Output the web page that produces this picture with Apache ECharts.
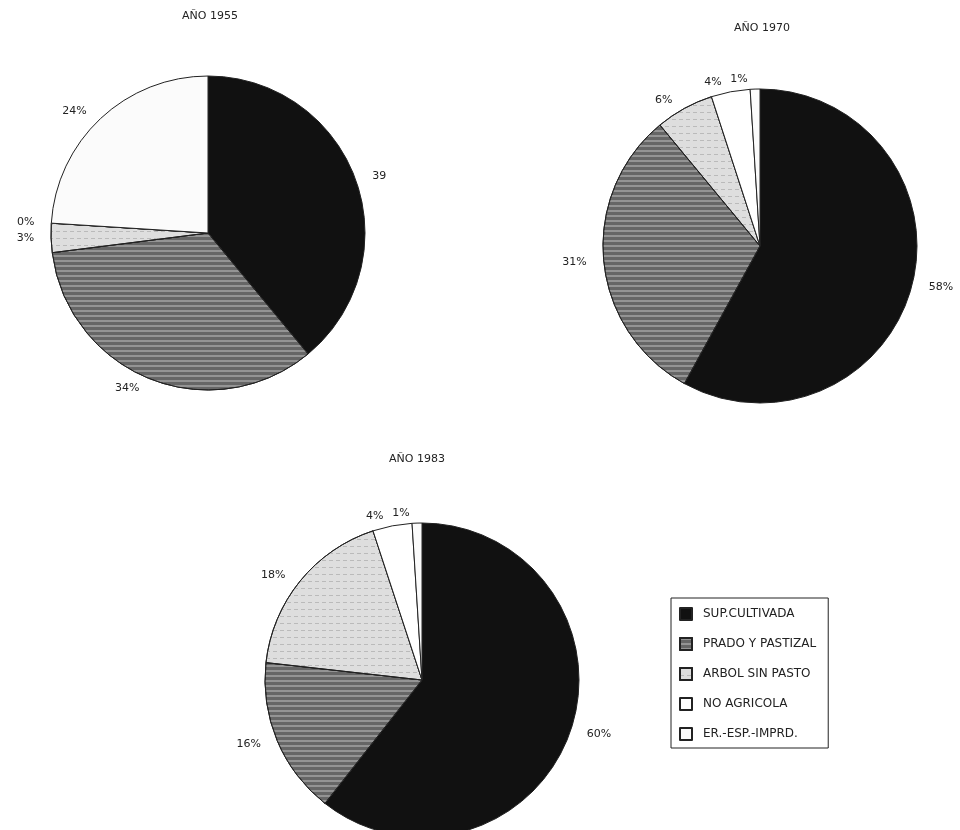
<!DOCTYPE html>
<html><head><meta charset="utf-8">
<script src="https://cdn.jsdelivr.net/npm/echarts@6/dist/echarts.min.js"></script>
<style>html,body{margin:0;padding:0;background:#fff}#c{width:960px;height:830px}</style>
</head><body><div id="c"></div><script>
const categories = ['SUP.CULTIVADA','PRADO Y PASTIZAL','ARBOL SIN PASTO','NO AGRICOLA','ER.-ESP.-IMPRD.'];
const years = ['AÑO 1955','AÑO 1970','AÑO 1983'];
const values1955 = [39,34,3,0,24];
const values1970 = [58,31,6,4,1];
const values1983 = [60,16,18,4,1];
const labels1955 = ['39','34%','3%','0%','24%'];
const labels1970 = ['58%','31%','6%','4%','1%'];
const labels1983 = ['60%','16%','18%','4%','1%'];

const FONT = "'DejaVu Sans',sans-serif";
const styles = [
  {color:'#111111'},
  {color:'#666666', decal:{symbol:'rect', dashArrayX:[1,0], dashArrayY:[2,3], symbolSize:1, color:'rgba(255,255,255,0.3)'}},
  {color:'#dedede', decal:{symbol:'rect', dashArrayX:[[4,3]], dashArrayY:[1,6], symbolSize:1, color:'rgba(120,120,120,0.35)'}},
  {color:'#ffffff'},
  {color:'#fbfbfb'}
];

function makeData(vals, labels){
  return vals.map((v,i)=>({
    name: categories[i], value: v,
    itemStyle: Object.assign({borderColor:'#222', borderWidth:1}, styles[i]),
    label: {formatter: labels[i]}
  }));
}
function pie(center, vals, labels){
  return {
    type:'pie', radius:157, center:center, startAngle:90, clockwise:true,
    avoidLabelOverlap:false, silent:true, animation:false,
    label:{show:true, position:'outside', fontSize:11, color:'#222', fontFamily:FONT, overflow:'none'},
    labelLine:{show:false, length:10, length2:2},
    data: makeData(vals, labels)
  };
}
const titleStyle = {fontSize:11, fontWeight:'normal', color:'#222', fontFamily:FONT};
const chart = echarts.init(document.getElementById('c'), null, {renderer:'canvas'});
chart.setOption({
  backgroundColor:'#fff',
  animation:false,
  title:[
    {text:years[0], left:210, top:11, padding:0, textAlign:'center', textStyle:titleStyle},
    {text:years[1], left:762, top:23, padding:0, textAlign:'center', textStyle:titleStyle},
    {text:years[2], left:417, top:454, padding:0, textAlign:'center', textStyle:titleStyle}
  ],
  legend:{
    orient:'vertical', left:671, top:598, data:categories,
    icon:'rect', itemWidth:12, itemHeight:12, itemGap:16,
    borderColor:'#222', borderWidth:1, padding:[9,12,7,8], selectedMode:false,
    textStyle:{fontSize:12, lineHeight:14, color:'#222', fontFamily:FONT, padding:[0,0,0,6]}
  },
  series:[
    pie([208,233], values1955, labels1955),
    pie([760,246], values1970, labels1970),
    pie([422,680], values1983, labels1983)
  ]
});
</script></body></html>
